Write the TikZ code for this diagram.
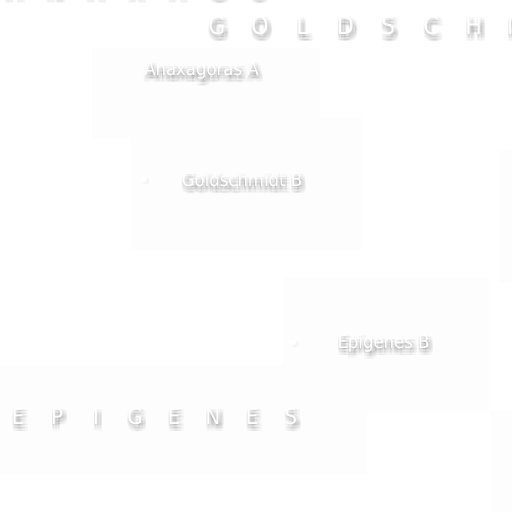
\documentclass[tikz,border=0pt]{standalone}
\usepackage{fontspec}
\setmainfont{DejaVu Sans}[FakeStretch=0.9]
\usetikzlibrary{calc}
\pgfdeclarelayer{bg}
\pgfsetlayers{bg,main}
\definecolor{tilegray}{RGB}{253,253,253}
\tikzset{
  lbl/.style={font=\fontsize{18.4}{20}\selectfont, inner sep=0pt, anchor=base},
  biglbl/.style={font=\fontsize{24.7}{26}\selectfont, inner sep=0pt, anchor=base},
  midlbl/.style={font=\fontsize{22}{24}\selectfont, inner sep=0pt, anchor=base},
  shd/.style={text=black, opacity=0.021},
  front/.style={text=white},
  tile/.style={fill=tilegray, draw=none},
  dot/.style={circle, fill=white, draw=none, minimum size=6bp, inner sep=0pt},
  dotshd/.style={circle, fill=black, opacity=0.03, draw=none, minimum size=7bp, inner sep=0pt},
}
\newcommand\shadowed[4]{%
  \foreach \dx in {-3,-1.5,0,1.5,3}{\foreach \dy in {-3,-1.5,0,1.5,3}{
    \node[#2,shd] at ($(#3)+(2+\dx,4+\dy)$) {#4};}}
  \node[#2,front] (#1) at (#3) {#4};
}
\begin{document}
\begin{tikzpicture}[x=1bp,y=-1bp]
\useasboundingbox (0,0) rectangle (512,512);
\clip (0,0) rectangle (512,512);
\begin{pgfonlayer}{bg}
  \fill[white] (0,0) rectangle (512,512);
  \fill[tile] (92,48) rectangle (320,138);
  \fill[tile] (130,117) rectangle (362,250);
  \fill[tile] (498,150) rectangle (512,283);
  \fill[tile] (283,277) rectangle (489,412);
  \fill[tile] (0,365) rectangle (367,474);
  \fill[tile] (490,410) rectangle (512,512);
\end{pgfonlayer}
% top row (cut off, only its shadow shows)
\foreach \ch [count=\i from 0] in {A,N,A,X,A,G,O}{
  \shadowed{t\i}{biglbl}{13+40.8*\i,-3}{\ch}}
% GOLDSCHMIDT
\foreach \ch [count=\i from 0] in {G,O,L,D,S,C,H,M,I,D,T}{
  \shadowed{g\i}{biglbl}{217+42.8*\i,35}{\ch}}
% EPIGENES
\foreach \ch [count=\i from 0] in {E,P,I,G,E,N,E,S}{
  \shadowed{e\i}{midlbl}{18+39*\i,424}{\ch}}
% small crater labels
\shadowed{anaxA}{lbl}{201.5,76}{Anaxagoras A}
\shadowed{goldB}{lbl}{242,187}{Goldschmidt B}
\shadowed{epiB}{lbl}{383.5,348}{Epigenes B}
% crater dots
\node[dotshd] at (146,181) {};
\node[dot] (d1) at (144,179) {};
\node[dotshd] at (295,344) {};
\node[dot] (d2) at (293,342) {};
\end{tikzpicture}
\end{document}
